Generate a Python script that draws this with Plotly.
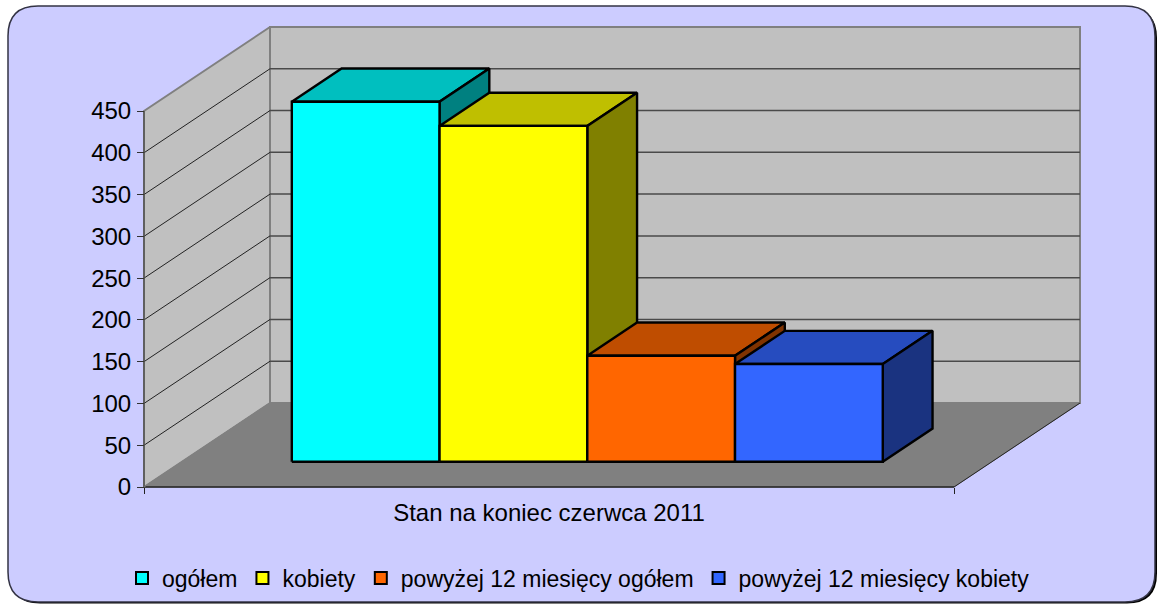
import plotly.graph_objects as go

# --- data ---
series_names = ["ogółem", "kobiety", "powyżej 12 miesięcy ogółem", "powyżej 12 miesięcy kobiety"]
series_values = [431, 402, 127, 117]
front_colors = ["#00FFFF", "#FFFF00", "#FF6600", "#3366FF"]
top_colors = ["#00BFBF", "#BFBF00", "#BF4D00", "#264CBF"]
side_colors = ["#008080", "#808000", "#803300", "#1A3380"]
category = "Stan na koniec czerwca 2011"
y_ticks = [0, 50, 100, 150, 200, 250, 300, 350, 400, 450]

# --- layout constants (pixels of the page) ---
W, H = 1157, 604
X0, X1 = 144, 954      # front floor edge
Y0, Y450 = 487, 111    # value 0 and value 450 on the front axis
PX_PER_UNIT = (Y0 - Y450) / 450
DX = 126 / (X1 - X0)   # oblique shift of the full depth, category units
DY = 84 / PX_PER_UNIT  # oblique shift of the full depth, value units
BAR_START = 0.1358
BAR_WIDTH = 0.1824
D_FRONT, D_BACK = 0.30, 0.695
FONT = "Liberation Sans"
FS = 24
LEGEND_FS = 23


def pr(x, v, d):
    return x + d * DX, v + d * DY


def poly(points, fill, line_color, line_width):
    xs, ys = zip(*[pr(*p) for p in points + points[:1]])
    return go.Scatter(x=xs, y=ys, mode="lines", fill="toself", fillcolor=fill,
                      line=dict(color=line_color, width=line_width),
                      hoverinfo="skip", showlegend=False)


def seg(points, color, width):
    xs, ys = zip(*[pr(*p) for p in points])
    return go.Scatter(x=xs, y=ys, mode="lines", line=dict(color=color, width=width),
                      hoverinfo="skip", showlegend=False)


fig = go.Figure()
top = y_ticks[-1]
# walls and floor
fig.add_trace(poly([(0, 0, 0), (0, top, 0), (0, top, 1), (0, 0, 1)], "#C0C0C0", "#808080", 2))
fig.add_trace(poly([(0, 0, 1), (0, top, 1), (1, top, 1), (1, 0, 1)], "#C0C0C0", "#808080", 2))
fig.add_trace(poly([(0, 0, 0), (1, 0, 0), (1, 0, 1), (0, 0, 1)], "#808080", "#808080", 1))
# gridlines
for v in y_ticks[1:-1]:
    fig.add_trace(seg([(0, v, 0), (0, v, 1)], "#222222", 1))
    fig.add_trace(seg([(0, v, 1), (1, v, 1)], "#4A4A4A", 1.5))
# axis edges
fig.add_trace(seg([(0, 0, 0), (0, top, 0)], "#555555", 1.5))
fig.add_trace(seg([(0, 0, 0), (1, 0, 0)], "#222222", 1.5))
fig.add_trace(seg([(1, 0, 0), (1, 0, 1)], "#222222", 1))
fig.add_trace(seg([(0, 0, 0), (0, 0, 1)], "#808080", 1))
# bars
for i, v in enumerate(series_values):
    a = BAR_START + i * BAR_WIDTH
    b = a + BAR_WIDTH
    fig.add_trace(poly([(a, v, D_FRONT), (b, v, D_FRONT), (b, v, D_BACK), (a, v, D_BACK)],
                       top_colors[i], "#000000", 2.4))
    fig.add_trace(poly([(b, 0, D_FRONT), (b, v, D_FRONT), (b, v, D_BACK), (b, 0, D_BACK)],
                       side_colors[i], "#000000", 2.4))
    fig.add_trace(poly([(a, 0, D_FRONT), (b, 0, D_FRONT), (b, v, D_FRONT), (a, v, D_FRONT)],
                       front_colors[i], "#000000", 2.4))
# legend entries
for name, c in zip(series_names, front_colors):
    fig.add_trace(go.Scatter(x=[None], y=[None], mode="markers", name=name,
                             marker=dict(symbol="square", size=14, color=c,
                                         line=dict(color="#000000", width=2))))


def rounded(l, t, r, b, rad):
    fx = lambda p: p / W
    fy = lambda p: 1 - p / H
    return (f"M {fx(l + rad)} {fy(t)} L {fx(r - rad)} {fy(t)} "
            f"Q {fx(r)} {fy(t)} {fx(r)} {fy(t + rad)} L {fx(r)} {fy(b - rad)} "
            f"Q {fx(r)} {fy(b)} {fx(r - rad)} {fy(b)} L {fx(l + rad)} {fy(b)} "
            f"Q {fx(l)} {fy(b)} {fx(l)} {fy(b - rad)} L {fx(l)} {fy(t + rad)} "
            f"Q {fx(l)} {fy(t)} {fx(l + rad)} {fy(t)} Z")


fig.update_layout(
    width=W, height=H, margin=dict(l=0, r=0, t=0, b=0, pad=0),
    paper_bgcolor="#FFFFFF", plot_bgcolor="rgba(0,0,0,0)",
    font=dict(family=FONT, size=FS, color="#000000"),
    shapes=[
        dict(type="path", xref="paper", yref="paper", layer="below",
             path=rounded(10, 8, 1157, 603.5, 30), fillcolor="#000000", line=dict(width=0)),
        dict(type="path", xref="paper", yref="paper", layer="below",
             path=rounded(8, 6, 1155, 602, 30), fillcolor="#CCCCFF",
             line=dict(color="#333344", width=1.5)),
    ],
    xaxis=dict(range=[-X0 / (X1 - X0), (W - X0) / (X1 - X0)], domain=[0, 1],
               anchor="free", position=(H - Y0) / H,
               tickmode="array", tickvals=[0.5], ticktext=[category], ticks="",
               ticklabelstandoff=9,
               tickfont=dict(family=FONT, size=FS),
               minor=dict(tickmode="array", tickvals=[0, 1], ticks="outside", ticklen=6,
                          tickcolor="#222222", tickwidth=1),
               showgrid=False, zeroline=False, showline=False, fixedrange=True),
    yaxis=dict(range=[(Y0 - H) / PX_PER_UNIT, Y0 / PX_PER_UNIT], domain=[0, 1],
               anchor="free", position=X0 / W,
               tickmode="array", tickvals=y_ticks, ticks="outside", ticklen=7,
               ticklabelstandoff=1,
               tickcolor="#333333", tickwidth=1,
               tickfont=dict(family=FONT, size=FS),
               showgrid=False, zeroline=False, showline=False, fixedrange=True),
    legend=dict(orientation="h", x=0.5, xanchor="center", y=(H - 578) / H, yanchor="middle",
                bgcolor="rgba(0,0,0,0)", font=dict(family=FONT, size=LEGEND_FS),
                itemwidth=30, itemsizing="constant", traceorder="normal"),
    showlegend=True,
)

fig.write_html("out.html", config={"displayModeBar": False},
               post_script="document.body.style.margin='0';")
